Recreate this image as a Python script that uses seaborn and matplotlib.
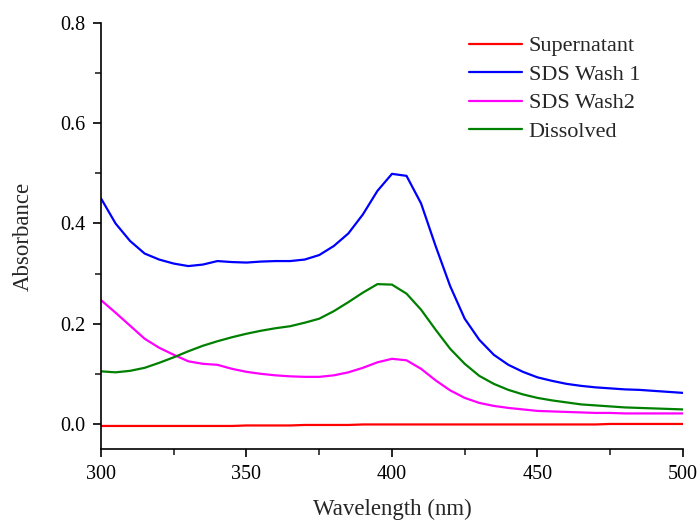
import numpy as np
import pandas as pd
import matplotlib
matplotlib.use('Agg')
import matplotlib.pyplot as plt
from matplotlib.ticker import MultipleLocator
import seaborn as sns

# wavelengths sampled every 5 nm
wavelength = list(range(300, 505, 5))

supernatant = [-0.004, -0.004, -0.004, -0.004, -0.004, -0.004, -0.004, -0.004, -0.004, -0.004,
               -0.003, -0.003, -0.003, -0.003, -0.002, -0.002, -0.002, -0.002, -0.001, -0.001,
               -0.001, -0.001, -0.001, -0.001, -0.001, -0.001, -0.001, -0.001, -0.001, -0.001,
               -0.001, -0.001, -0.001, -0.001, -0.001, 0.000, 0.000, 0.000, 0.000, 0.000, 0.000]

sds_wash1 = [0.450, 0.400, 0.365, 0.340, 0.328, 0.320, 0.315, 0.318, 0.325, 0.323,
             0.322, 0.324, 0.325, 0.325, 0.328, 0.337, 0.355, 0.380, 0.418, 0.465,
             0.499, 0.495, 0.440, 0.355, 0.275, 0.210, 0.168, 0.138, 0.118, 0.104,
             0.093, 0.086, 0.080, 0.076, 0.073, 0.071, 0.069, 0.068, 0.066, 0.064, 0.062]

sds_wash2 = [0.247, 0.222, 0.196, 0.170, 0.152, 0.138, 0.125, 0.120, 0.118, 0.110,
             0.104, 0.100, 0.097, 0.095, 0.094, 0.094, 0.097, 0.103, 0.112, 0.123,
             0.130, 0.127, 0.110, 0.087, 0.067, 0.052, 0.042, 0.036, 0.032, 0.029,
             0.026, 0.025, 0.024, 0.023, 0.022, 0.022, 0.021, 0.021, 0.021, 0.021, 0.021]

dissolved = [0.105, 0.103, 0.106, 0.112, 0.122, 0.133, 0.145, 0.156, 0.165, 0.173,
             0.180, 0.186, 0.191, 0.195, 0.202, 0.210, 0.225, 0.243, 0.262, 0.279,
             0.278, 0.260, 0.228, 0.188, 0.150, 0.120, 0.096, 0.080, 0.068, 0.059,
             0.052, 0.047, 0.043, 0.039, 0.037, 0.035, 0.033, 0.032, 0.031, 0.030, 0.029]

series_names = ['Supernatant', 'SDS Wash 1', 'SDS Wash2', 'Dissolved']
series_colors = ['#ff0000', '#0000ff', '#ff00ff', '#008000']

frames = []
for name, vals in zip(series_names, [supernatant, sds_wash1, sds_wash2, dissolved]):
    frames.append(pd.DataFrame({'Wavelength': wavelength, 'Absorbance': vals, 'Sample': name}))
df = pd.concat(frames, ignore_index=True)

sns.set_style('ticks')
plt.rcParams['font.family'] = ['Liberation Serif', 'DejaVu Serif']
plt.rcParams['xtick.direction'] = 'out'
plt.rcParams['ytick.direction'] = 'out'

fig = plt.figure(figsize=(6.99, 5.2), dpi=100)
ax = fig.add_axes([0.1445, 0.1365, 0.8325, 0.8193])

sns.lineplot(data=df, x='Wavelength', y='Absorbance', hue='Sample',
             hue_order=series_names, palette=series_colors, linewidth=1.6, ax=ax)

ax.set_xlim(300, 500)
ax.set_ylim(-0.05, 0.8)
ax.xaxis.set_major_locator(MultipleLocator(50))
ax.xaxis.set_minor_locator(MultipleLocator(25))
ax.yaxis.set_major_locator(MultipleLocator(0.2))
ax.yaxis.set_minor_locator(MultipleLocator(0.1))
ax.yaxis.set_major_formatter(plt.FuncFormatter(lambda v, p: f'{v:.1f}'))
ax.tick_params(which='major', length=6, width=1.2, labelsize=14.5, colors='black', pad=5)
ax.tick_params(axis='x', which='major', pad=5.5)
ax.tick_params(which='minor', length=4, width=1.2)

for side in ['top', 'right']:
    ax.spines[side].set_visible(False)
for side in ['left', 'bottom']:
    ax.spines[side].set_linewidth(1.2)
    ax.spines[side].set_color('black')

ax.set_xlabel('Wavelength (nm)', fontsize=16.5, labelpad=11)
ax.set_ylabel('Absorbance', fontsize=16.5, labelpad=19)

ax.legend(loc='upper left', frameon=False, fontsize=16, handlelength=2.4,
          handletextpad=0.3, labelspacing=0.36, borderpad=0, borderaxespad=0,
          bbox_to_anchor=(0.632, 0.97))

fig.savefig('out.png', dpi=100)
